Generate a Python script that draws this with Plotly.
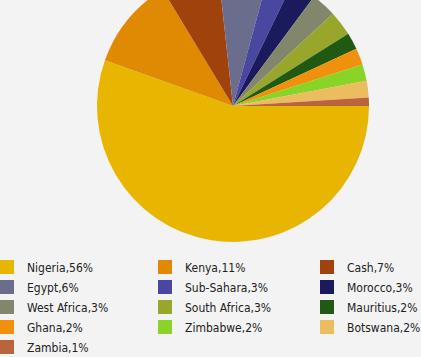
import plotly.graph_objects as go

# ---- data ----
categories = ["Nigeria", "Kenya", "Cash", "Egypt", "Sub-Sahara", "Morocco",
              "West Africa", "South Africa", "Mauritius", "Ghana", "Zimbabwe",
              "Botswana", "Zambia"]
shares = [56, 11, 7, 6, 3, 3, 3, 3, 2, 2, 2, 2, 1]
colors = ["#e8b500", "#e08a04", "#a0420c", "#6b6d8c", "#4a47a0", "#1b1a5c",
          "#82866c", "#98a62c", "#205a12", "#f0900c", "#8ad428",
          "#ecbd5e", "#b9643c"]

labels = [f"{c},{p}%" for c, p in zip(categories, shares)]

W, H = 421, 357
TOP_HIDDEN = 30          # part of the pie above the visible window
FH = H + TOP_HIDDEN      # full figure height

# pie geometry (pixels in full figure)
cx, cy, r = 233, 106 + TOP_HIDDEN, 136

fig = go.Figure()
fig.add_trace(go.Pie(
    labels=labels,
    values=shares,
    marker=dict(colors=colors, line=dict(width=0)),
    sort=False,
    direction="clockwise",
    rotation=90,
    textinfo="none",
    hoverinfo="label",
    showlegend=False,
    domain=dict(x=[(cx - r) / W, (cx + r) / W],
                y=[1 - (cy + r) / FH, 1 - (cy - r) / FH]),
))

# legend entries (3 columns, row-major like the reference)
legend_ids = ["legend", "legend2", "legend3"]
for i, (lab, col) in enumerate(zip(labels, colors)):
    fig.add_trace(go.Scatter(
        x=[None], y=[None], mode="markers", name=lab,
        marker=dict(symbol="square", size=14, color=col, line=dict(width=0)),
        legend=legend_ids[i % 3], legendgroup=str(i), showlegend=True,
        hoverinfo="skip",
    ))

font = dict(family="DejaVu Sans Condensed, DejaVu Sans, sans-serif", size=12,
            color="#222222")
row0_center = 267 + TOP_HIDDEN
legend_top = row0_center - 14.5
col_starts = [-13, 145, 307]
common = dict(orientation="v", yanchor="top", xanchor="left",
              y=1 - legend_top / FH, tracegroupgap=1,
              bgcolor="rgba(0,0,0,0)", borderwidth=0, font=font,
              itemclick=False, itemdoubleclick=False)

fig.update_layout(
    width=W, height=FH,
    margin=dict(l=0, r=0, t=0, b=0, autoexpand=False),
    paper_bgcolor="#f3f3f3",
    plot_bgcolor="#f3f3f3",
    xaxis=dict(visible=False),
    yaxis=dict(visible=False),
    font=font,
    legend=dict(x=col_starts[0] / W, **common),
    legend2=dict(x=col_starts[1] / W, **common),
    legend3=dict(x=col_starts[2] / W, **common),
)

post = ("document.body.style.margin='0';"
        "document.body.style.overflow='hidden';"
        "document.getElementById('{plot_id}').style.marginTop='-%dpx';" % TOP_HIDDEN)

fig.write_html("out.html", post_script=post)
